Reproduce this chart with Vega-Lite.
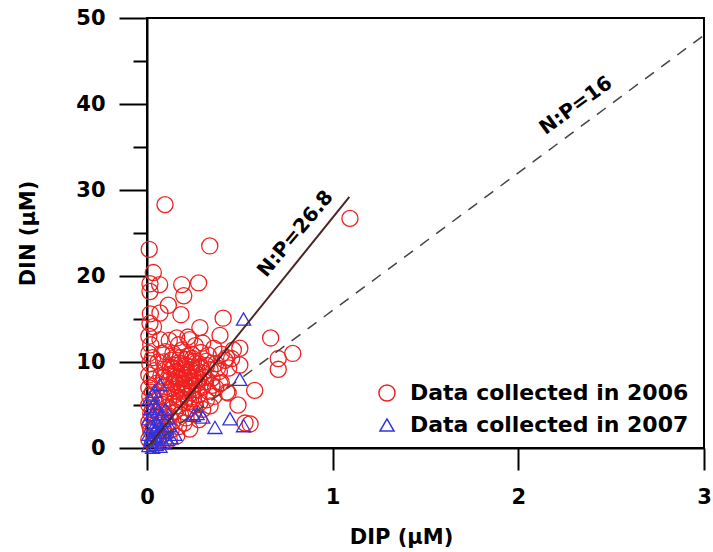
{
  "$schema": "https://vega.github.io/schema/vega-lite/v6.json",
  "width": 557,
  "height": 430,
  "autosize": {"type": "none"},
  "padding": {"left": 147, "top": 18, "right": 9, "bottom": 104},
  "background": "white",
  "config": {
    "view": {"stroke": "black", "strokeWidth": 2},
    "font": "DejaVu Sans",
    "axis": {
      "grid": false,
      "domainColor": "black",
      "domainWidth": 2,
      "tickColor": "black",
      "tickWidth": 2,
      "labelFont": "DejaVu Sans",
      "labelFontWeight": "bold",
      "labelFontSize": 21,
      "labelColor": "black",
      "labelFlush": false,
      "labelOverlap": false,
      "titleFont": "DejaVu Sans",
      "titleFontWeight": "bold",
      "titleFontSize": 21,
      "titleColor": "black"
    }
  },
  "layer": [
    {
      "data": {"values": [
        {"year":"2006","dip":0.097,"din":28.3},{"year":"2006","dip":0.012,"din":23.1},{"year":"2006","dip":0.338,"din":23.5},{"year":"2006","dip":1.093,"din":26.7},
        {"year":"2006","dip":0.034,"din":20.4},{"year":"2006","dip":0.016,"din":19.1},{"year":"2006","dip":0.068,"din":19.0},{"year":"2006","dip":0.187,"din":19.0},
        {"year":"2006","dip":0.278,"din":19.2},{"year":"2006","dip":0.016,"din":18.2},{"year":"2006","dip":0.198,"din":17.7},{"year":"2006","dip":0.115,"din":16.6},
        {"year":"2006","dip":0.07,"din":15.7},{"year":"2006","dip":0.183,"din":15.5},{"year":"2006","dip":0.018,"din":15.6},{"year":"2006","dip":0.016,"din":14.5},
        {"year":"2006","dip":0.035,"din":14.1},{"year":"2006","dip":0.41,"din":15.1},{"year":"2006","dip":0.285,"din":14.0},{"year":"2006","dip":0.666,"din":12.8},
        {"year":"2006","dip":0.785,"din":11.0},{"year":"2006","dip":0.707,"din":10.4},{"year":"2006","dip":0.707,"din":9.15},{"year":"2006","dip":0.58,"din":6.7},
        {"year":"2006","dip":0.555,"din":2.8},{"year":"2006","dip":0.5,"din":11.6},{"year":"2006","dip":0.49,"din":5.0},{"year":"2006","dip":0.528,"din":2.9},
        {"year":"2006","dip":0.393,"din":13.1},{"year":"2006","dip":0.23,"din":12.6},{"year":"2006","dip":0.16,"din":12.8},{"year":"2006","dip":0.437,"din":6.4},
        {"year":"2006","dip":0.393,"din":7.5},{"year":"2006","dip":0.456,"din":10.4},{"year":"2006","dip":0.5,"din":9.65},{"year":"2006","dip":0.465,"din":11.4},
        {"year":"2006","dip":0.01,"din":13.0},{"year":"2006","dip":0.02,"din":12.0},{"year":"2006","dip":0.01,"din":11.0},{"year":"2006","dip":0.03,"din":10.5},
        {"year":"2006","dip":0.015,"din":9.8},{"year":"2006","dip":0.04,"din":9.0},{"year":"2006","dip":0.01,"din":8.5},{"year":"2006","dip":0.025,"din":8.0},
        {"year":"2006","dip":0.05,"din":7.5},{"year":"2006","dip":0.01,"din":7.0},{"year":"2006","dip":0.03,"din":6.5},{"year":"2006","dip":0.015,"din":6.0},
        {"year":"2006","dip":0.045,"din":5.5},{"year":"2006","dip":0.01,"din":5.0},{"year":"2006","dip":0.03,"din":4.5},{"year":"2006","dip":0.02,"din":4.0},
        {"year":"2006","dip":0.05,"din":3.5},{"year":"2006","dip":0.01,"din":3.0},{"year":"2006","dip":0.035,"din":2.5},{"year":"2006","dip":0.02,"din":2.0},
        {"year":"2006","dip":0.045,"din":1.5},{"year":"2006","dip":0.01,"din":1.0},{"year":"2006","dip":0.03,"din":0.6},{"year":"2006","dip":0.06,"din":0.9},
        {"year":"2006","dip":0.015,"din":2.6},{"year":"2006","dip":0.06,"din":4.2},{"year":"2006","dip":0.07,"din":6.0},{"year":"2006","dip":0.075,"din":8.4},
        {"year":"2006","dip":0.06,"din":10.0},{"year":"2006","dip":0.08,"din":11.0},{"year":"2006","dip":0.07,"din":12.6},
        {"year":"2006","dip":0.12,"din":12.5},{"year":"2006","dip":0.22,"din":12.9},{"year":"2006","dip":0.3,"din":12.2},{"year":"2006","dip":0.36,"din":11.6},
        {"year":"2006","dip":0.26,"din":11.9},{"year":"2006","dip":0.17,"din":12.0},
        {"year":"2006","dip":0.1,"din":11.2},{"year":"2006","dip":0.14,"din":11.0},{"year":"2006","dip":0.19,"din":11.4},{"year":"2006","dip":0.24,"din":10.9},
        {"year":"2006","dip":0.29,"din":11.1},{"year":"2006","dip":0.33,"din":10.8},{"year":"2006","dip":0.4,"din":10.9},{"year":"2006","dip":0.43,"din":10.5},
        {"year":"2006","dip":0.09,"din":10.0},{"year":"2006","dip":0.13,"din":10.2},{"year":"2006","dip":0.17,"din":9.9},{"year":"2006","dip":0.21,"din":10.3},
        {"year":"2006","dip":0.25,"din":10.0},{"year":"2006","dip":0.28,"din":9.8},{"year":"2006","dip":0.32,"din":10.1},{"year":"2006","dip":0.37,"din":9.8},
        {"year":"2006","dip":0.42,"din":10.2},
        {"year":"2006","dip":0.1,"din":9.1},{"year":"2006","dip":0.14,"din":9.3},{"year":"2006","dip":0.16,"din":8.9},{"year":"2006","dip":0.19,"din":9.2},
        {"year":"2006","dip":0.22,"din":8.8},{"year":"2006","dip":0.24,"din":9.4},{"year":"2006","dip":0.27,"din":9.0},{"year":"2006","dip":0.3,"din":8.7},
        {"year":"2006","dip":0.34,"din":9.1},{"year":"2006","dip":0.39,"din":8.9},{"year":"2006","dip":0.44,"din":9.3},
        {"year":"2006","dip":0.09,"din":8.2},{"year":"2006","dip":0.12,"din":7.9},{"year":"2006","dip":0.15,"din":8.3},{"year":"2006","dip":0.18,"din":8.0},
        {"year":"2006","dip":0.2,"din":8.5},{"year":"2006","dip":0.23,"din":7.8},{"year":"2006","dip":0.25,"din":8.2},{"year":"2006","dip":0.28,"din":8.0},
        {"year":"2006","dip":0.31,"din":7.7},{"year":"2006","dip":0.35,"din":8.1},{"year":"2006","dip":0.4,"din":7.6},
        {"year":"2006","dip":0.1,"din":7.1},{"year":"2006","dip":0.13,"din":6.9},{"year":"2006","dip":0.16,"din":7.3},{"year":"2006","dip":0.19,"din":7.0},
        {"year":"2006","dip":0.21,"din":6.7},{"year":"2006","dip":0.24,"din":7.2},{"year":"2006","dip":0.27,"din":6.8},{"year":"2006","dip":0.3,"din":7.1},
        {"year":"2006","dip":0.33,"din":6.6},{"year":"2006","dip":0.37,"din":7.0},{"year":"2006","dip":0.43,"din":6.5},
        {"year":"2006","dip":0.09,"din":6.1},{"year":"2006","dip":0.12,"din":5.8},{"year":"2006","dip":0.15,"din":6.2},{"year":"2006","dip":0.18,"din":5.9},
        {"year":"2006","dip":0.22,"din":6.0},{"year":"2006","dip":0.25,"din":5.7},{"year":"2006","dip":0.28,"din":6.2},{"year":"2006","dip":0.32,"din":5.6},
        {"year":"2006","dip":0.36,"din":6.0},
        {"year":"2006","dip":0.08,"din":5.1},{"year":"2006","dip":0.11,"din":4.8},{"year":"2006","dip":0.14,"din":5.2},{"year":"2006","dip":0.17,"din":4.9},
        {"year":"2006","dip":0.2,"din":5.3},{"year":"2006","dip":0.23,"din":4.6},{"year":"2006","dip":0.26,"din":5.0},{"year":"2006","dip":0.3,"din":4.5},
        {"year":"2006","dip":0.34,"din":4.9},
        {"year":"2006","dip":0.09,"din":4.0},{"year":"2006","dip":0.12,"din":3.7},{"year":"2006","dip":0.15,"din":4.2},{"year":"2006","dip":0.18,"din":3.9},
        {"year":"2006","dip":0.21,"din":3.5},{"year":"2006","dip":0.25,"din":4.1},{"year":"2006","dip":0.28,"din":3.3},
        {"year":"2006","dip":0.08,"din":3.0},{"year":"2006","dip":0.11,"din":2.7},{"year":"2006","dip":0.14,"din":3.1},{"year":"2006","dip":0.17,"din":2.5},
        {"year":"2006","dip":0.2,"din":2.9},{"year":"2006","dip":0.23,"din":2.2},
        {"year":"2006","dip":0.07,"din":2.0},{"year":"2006","dip":0.1,"din":1.7},{"year":"2006","dip":0.13,"din":2.1},{"year":"2006","dip":0.16,"din":1.4},
        {"year":"2006","dip":0.06,"din":1.2},{"year":"2006","dip":0.09,"din":0.8},{"year":"2006","dip":0.12,"din":1.0},
        {"year":"2006","dip":0.19,"din":8.6},{"year":"2006","dip":0.21,"din":9.6},{"year":"2006","dip":0.17,"din":7.6},{"year":"2006","dip":0.23,"din":8.3},
        {"year":"2006","dip":0.2,"din":7.4},{"year":"2006","dip":0.26,"din":8.7},{"year":"2006","dip":0.15,"din":9.6},{"year":"2006","dip":0.22,"din":10.7},
        {"year":"2006","dip":0.18,"din":10.5},{"year":"2006","dip":0.27,"din":7.5},{"year":"2006","dip":0.13,"din":8.6},{"year":"2006","dip":0.24,"din":6.4},
        {"year":"2006","dip":0.29,"din":9.4},{"year":"2006","dip":0.16,"din":6.6},
        {"year":"2006","dip":0.205,"din":8.1},{"year":"2006","dip":0.185,"din":9.8},{"year":"2006","dip":0.235,"din":9.1},{"year":"2006","dip":0.165,"din":8.2},
        {"year":"2006","dip":0.215,"din":7.1},{"year":"2006","dip":0.255,"din":7.8},{"year":"2006","dip":0.145,"din":7.7},{"year":"2006","dip":0.265,"din":9.9},
        {"year":"2006","dip":0.195,"din":6.3},{"year":"2006","dip":0.125,"din":9.4},{"year":"2006","dip":0.305,"din":8.2},{"year":"2006","dip":0.225,"din":5.4},
        {"year":"2006","dip":0.155,"din":10.6},{"year":"2006","dip":0.245,"din":10.4},{"year":"2006","dip":0.11,"din":6.5},{"year":"2006","dip":0.32,"din":9.6},
        {"year":"2006","dip":0.285,"din":5.3},{"year":"2006","dip":0.175,"din":5.6},{"year":"2006","dip":0.35,"din":7.3},{"year":"2006","dip":0.38,"din":9.3},
        {"year":"2007","dip":0.52,"din":15.0},{"year":"2007","dip":0.5,"din":8.0},{"year":"2007","dip":0.27,"din":4.0},{"year":"2007","dip":0.3,"din":3.6},
        {"year":"2007","dip":0.366,"din":2.4},{"year":"2007","dip":0.447,"din":3.4},{"year":"2007","dip":0.52,"din":2.6},{"year":"2007","dip":0.07,"din":7.4},
        {"year":"2007","dip":0.03,"din":6.2},{"year":"2007","dip":0.15,"din":1.6},{"year":"2007","dip":0.113,"din":3.5},{"year":"2007","dip":0.052,"din":4.8},
        {"year":"2007","dip":0.25,"din":3.8},
        {"year":"2007","dip":0.01,"din":0.3},{"year":"2007","dip":0.02,"din":0.8},{"year":"2007","dip":0.03,"din":1.2},{"year":"2007","dip":0.01,"din":1.6},
        {"year":"2007","dip":0.04,"din":2.0},{"year":"2007","dip":0.02,"din":2.5},{"year":"2007","dip":0.05,"din":3.0},{"year":"2007","dip":0.01,"din":3.4},
        {"year":"2007","dip":0.03,"din":3.9},{"year":"2007","dip":0.06,"din":4.3},{"year":"2007","dip":0.02,"din":4.6},{"year":"2007","dip":0.04,"din":5.2},
        {"year":"2007","dip":0.08,"din":2.2},{"year":"2007","dip":0.07,"din":1.4},{"year":"2007","dip":0.09,"din":0.6},{"year":"2007","dip":0.05,"din":0.4},
        {"year":"2007","dip":0.1,"din":1.9},{"year":"2007","dip":0.06,"din":2.7},{"year":"2007","dip":0.12,"din":2.6},{"year":"2007","dip":0.09,"din":3.2},
        {"year":"2007","dip":0.03,"din":0.1},{"year":"2007","dip":0.07,"din":0.2},{"year":"2007","dip":0.11,"din":1.0},{"year":"2007","dip":0.08,"din":4.0},
        {"year":"2007","dip":0.015,"din":5.8},{"year":"2007","dip":0.04,"din":6.6},{"year":"2007","dip":0.1,"din":4.5},{"year":"2007","dip":0.13,"din":1.2},
        {"year":"2007","dip":0.02,"din":1.1},{"year":"2007","dip":0.06,"din":1.8}
      ]},
      "mark": {"type": "point", "filled": false, "strokeWidth": 1.3, "opacity": 1},
      "encoding": {
        "x": {"field": "dip", "type": "quantitative",
          "scale": {"domain": [0, 3], "nice": false, "zero": true},
          "axis": {
            "title": "DIP (μM)",
            "values": [0, 0.5, 1, 1.5, 2, 2.5, 3],
            "format": "d",
            "labelExpr": "datum.value % 1 === 0 ? datum.label : ''",
            "tickSize": {"condition": {"test": "datum.value % 1 === 0", "value": 22}, "value": 11},
            "labelPadding": 16,
            "titleX": 254,
            "titleY": 95,
            "titleBaseline": "alphabetic",
            "titleAlign": "center"
          }
        },
        "y": {"field": "din", "type": "quantitative",
          "scale": {"domain": [0, 50], "nice": false},
          "axis": {
            "title": "DIN (μM)",
            "values": [0, 5, 10, 15, 20, 25, 30, 35, 40, 45, 50],
            "format": "d",
            "labelExpr": "datum.value % 10 === 0 ? datum.label : ''",
            "tickSize": {"condition": {"test": "datum.value % 10 === 0", "value": 28}, "value": 14},
            "labelPadding": 14,
            "titleX": -113,
            "titleY": 215,
            "titleBaseline": "alphabetic",
            "titleAlign": "center",
            "titleAngle": -90
          }
        },
        "color": {"field": "year", "type": "nominal",
          "scale": {"domain": ["2006", "2007"], "range": ["#ee2222", "#3333dd"]},
          "legend": {
            "title": null,
            "orient": "none",
            "legendX": 229,
            "legendY": 364,
            "labelExpr": "'Data collected in ' + datum.label",
            "labelFont": "DejaVu Sans",
            "labelFontWeight": "bold",
            "labelFontSize": 22,
            "labelColor": "black",
            "labelLimit": 0,
            "labelOffset": 12,
            "symbolSize": 240,
            "symbolStrokeWidth": 1.5,
            "rowPadding": 9,
            "padding": 0
          }
        },
        "shape": {"field": "year", "type": "nominal",
          "scale": {"domain": ["2006", "2007"], "range": ["circle", "triangle-up"]}
        },
        "size": {"field": "year", "type": "nominal",
          "scale": {"domain": ["2006", "2007"], "range": [260, 200]},
          "legend": null
        }
      }
    },
    {
      "data": {"values": [{"dip": 0, "din": 0}, {"dip": 1.09, "din": 29.2}]},
      "mark": {"type": "line", "color": "#4d2424", "strokeWidth": 2},
      "encoding": {
        "x": {"field": "dip", "type": "quantitative"},
        "y": {"field": "din", "type": "quantitative"}
      }
    },
    {
      "data": {"values": [{"dip": 0, "din": 0}, {"dip": 3, "din": 48}]},
      "mark": {"type": "line", "color": "#444444", "strokeWidth": 1.5, "strokeDash": [11, 9]},
      "encoding": {
        "x": {"field": "dip", "type": "quantitative"},
        "y": {"field": "din", "type": "quantitative"}
      }
    },
    {
      "data": {"values": [{"dip": 0.8, "din": 24.9, "label": "N:P=26.8"}]},
      "mark": {"type": "text", "angle": -50, "font": "DejaVu Sans", "fontWeight": "bold", "fontSize": 20, "color": "black", "align": "center", "baseline": "middle"},
      "encoding": {
        "x": {"field": "dip", "type": "quantitative"},
        "y": {"field": "din", "type": "quantitative"},
        "text": {"field": "label"}
      }
    },
    {
      "data": {"values": [{"dip": 2.31, "din": 39.8, "label": "N:P=16"}]},
      "mark": {"type": "text", "angle": -36, "font": "DejaVu Sans", "fontWeight": "bold", "fontSize": 20, "color": "black", "align": "center", "baseline": "middle"},
      "encoding": {
        "x": {"field": "dip", "type": "quantitative"},
        "y": {"field": "din", "type": "quantitative"},
        "text": {"field": "label"}
      }
    }
  ]
}
